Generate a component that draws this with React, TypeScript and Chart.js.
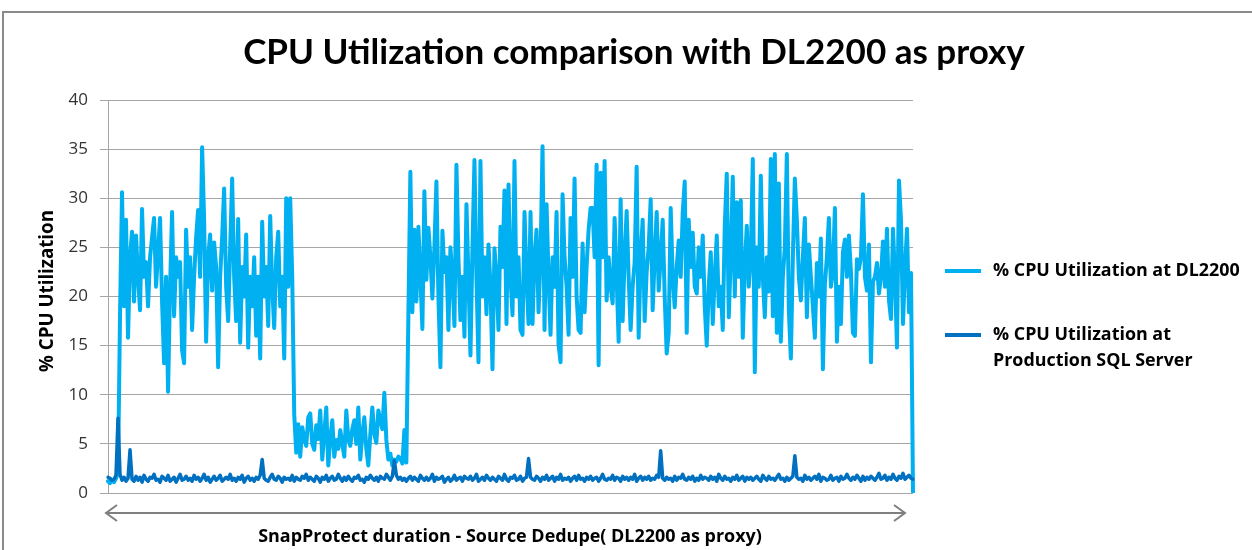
import React, { useEffect, useRef } from "react";
import { Chart, registerables } from "chart.js";

Chart.register(...registerables);

const TITLE = "CPU Utilization comparison with DL2200 as proxy";
const X_TITLE = "SnapProtect duration - Source Dedupe( DL2200 as proxy)";
const Y_TITLE = "% CPU Utilization";
const SERIES_NAMES = ["% CPU Utilization at DL2200", "% CPU Utilization at Production SQL Server"];
const LEGEND_LINES = [["% CPU Utilization at DL2200"], ["% CPU Utilization at", "Production SQL Server"]];
const Y_MIN = 0;
const Y_MAX = 40;
const Y_STEP = 5;

// % CPU utilisation at DL2200 (proxy), one sample per interval
const dl2200 = [
  1.2, 1.0, 1.3, 1.1, 1.5, 2.0, 18, 30.6, 19, 27.8,
  15.8, 24, 26.6, 19.5, 26.2, 22, 18.6, 28.9, 22, 23.5,
  19, 24, 26, 28, 21, 24.5, 28, 19.5, 13.2, 22,
  10.3, 21, 28.6, 18, 24, 22, 23.5, 14.5, 13.2, 26.8,
  21, 24, 16.6, 22, 26, 28.8, 22, 35.2, 27.8, 15.4,
  24, 26.3, 20.6, 25.5, 23, 12.8, 22, 26, 31, 21,
  17.5, 25, 32, 22, 17.5, 27.9, 15.3, 23, 20, 26.3,
  14.8, 22, 19, 24, 16, 22, 13.7, 27.6, 20, 23,
  17, 28.2, 21, 16.8, 24, 26.6, 19, 22, 13.7, 30,
  21, 30, 22, 8, 4.1, 7, 3.7, 6.7, 5.5, 4.8,
  7.7, 8.1, 5, 4.4, 6.9, 5.5, 8.4, 3.4, 6, 8.7,
  2.8, 5.5, 7.4, 3.7, 5.4, 4.5, 6.4, 5, 3.7, 8.4,
  5.5, 4.8, 6.5, 7.4, 5, 8.7, 3.4, 6, 7.7, 4.5,
  2.8, 6, 8.7, 6, 5.1, 8.4, 7.4, 6.5, 10.2, 5.4,
  3.4, 4, 2.8, 3.4, 3.2, 3.7, 3.5, 3, 6.4, 3.1,
  18, 32.7, 18.4, 26.8, 19.5, 27.1, 22, 16.7, 30.7, 21.7,
  27, 24, 19.8, 25, 31.7, 20, 12.8, 26.7, 22.5, 24,
  16.6, 25, 22, 17, 33.4, 24, 17.6, 22, 15.9, 29.4,
  22, 14, 24.9, 33.9, 22, 13.3, 33.8, 20, 24, 18.2,
  25.3, 21, 12.6, 24.9, 22, 16.6, 27.1, 23, 30.8, 17.2,
  31.4, 22, 18.1, 33.8, 20, 24, 16.6, 16.1, 28.6, 22,
  17.2, 28.6, 17.2, 24, 26.8, 18.4, 24, 35.3, 16.6, 29.4,
  22, 16.1, 24, 21, 28.6, 15.1, 13.3, 30.4, 24, 21.1,
  16.1, 28, 22, 32, 20, 16.6, 16.3, 25.4, 18.4, 23,
  26.8, 29, 29, 24, 33.4, 13, 32.6, 24, 33.8, 19.6,
  24, 21, 19.3, 28, 22, 15.4, 29.9, 17.5, 24, 28.7,
  22, 16.6, 21, 23.5, 33.2, 15.8, 24, 27.8, 17.5, 22.5,
  25, 29.9, 18.6, 24, 28.6, 20.6, 24, 27.8, 20, 14.2,
  16.3, 29, 22, 18.9, 23, 25.7, 22, 28.5, 31.7, 16.3,
  27.8, 23, 26.5, 21, 20.3, 25, 22, 26.2, 19, 15,
  21, 24.5, 17.2, 22, 26.2, 19, 21, 16.6, 27.2, 32.5,
  17.9, 24, 32.2, 20, 29.6, 22, 29.8, 15.8, 23, 27.2,
  21, 24, 34, 12.3, 25, 21, 32.3, 22, 17.9, 24,
  20.5, 34, 18, 34.5, 16.3, 31.5, 15.4, 22, 25, 34.5,
  18.6, 13.7, 24, 32, 27.8, 22, 19.6, 24, 28, 17.9,
  25.3, 22, 19, 15.8, 23.4, 20, 25.9, 12.6, 21.2, 24,
  28, 21, 22.5, 29, 15.4, 21, 17.2, 24.5, 25.8, 22,
  26.2, 22.5, 16.3, 16, 23.8, 22.8, 24, 30.4, 22, 20.6,
  25.3, 13.3, 21.5, 22, 23.4, 20.3, 22, 25.6, 21, 26.9,
  19.6, 17.7, 26.9, 22, 14.8, 31.8, 27.8, 17.2, 22.8, 26.9,
  18.4, 22.4, 0.1,
];

// % CPU utilisation at the production SQL server, same samples
const sqlServer = [
  1.6, 1.5, 1.3, 1.4, 1.8, 7.6, 1.9, 1.3, 1.6, 1.2,
  1.5, 4.4, 1.4, 1.2, 1.7, 1.3, 1.6, 1.1, 1.8, 1.4,
  1.2, 1.6, 1.5, 1.9, 1.3, 1.4, 1.1, 1.7, 1.5, 1.3,
  1.8, 1.2, 1.4, 1.6, 1.1, 1.5, 1.9, 1.3, 1.4, 1.7,
  1.3, 1.5, 1.2, 1.8, 1.4, 1.6, 1.2, 1.5, 1.9, 1.3,
  1.6, 1.1, 1.4, 1.7, 1.3, 1.5, 1.8, 1.2, 1.4, 1.6,
  1.4, 1.9, 1.3, 1.5, 1.2, 1.6, 1.4, 1.8, 1.1, 1.5,
  1.7, 1.3, 1.5, 1.2, 1.6, 1.4, 1.8, 3.4, 1.5, 1.3,
  1.2, 1.6, 1.9, 1.4, 1.3, 1.7, 1.5, 1.1, 1.6, 1.4,
  1.5, 1.3, 1.8, 1.2, 1.6, 1.4, 1.3, 1.7, 1.5, 1.9,
  1.3, 1.6, 1.4, 1.2, 1.7, 1.5, 1.1, 1.6, 1.4, 1.8,
  1.2, 1.5, 1.7, 1.3, 1.4, 1.9, 1.5, 1.2, 1.6, 1.3,
  1.7, 1.4, 1.2, 1.6, 1.5, 1.8, 1.3, 1.4, 1.1, 1.6,
  1.4, 1.8, 1.5, 1.3, 1.6, 1.2, 1.7, 1.5, 1.4, 1.9,
  1.6, 1.3, 1.7, 3.3, 1.8, 1.4, 1.6, 1.3, 1.5, 1.2,
  1.5, 1.7, 1.3, 1.6, 1.4, 1.2, 1.8, 1.5, 1.3, 1.6,
  1.3, 1.5, 1.9, 1.2, 1.6, 1.4, 1.5, 1.7, 1.1, 1.4,
  1.6, 1.2, 1.4, 1.8, 1.3, 1.5, 1.6, 1.2, 1.7, 1.5,
  1.4, 1.7, 1.3, 1.5, 1.9, 1.2, 1.4, 1.6, 1.3, 1.8,
  1.5, 1.3, 1.6, 1.4, 1.2, 1.7, 1.5, 1.3, 1.9, 1.4,
  1.2, 1.6, 1.5, 1.8, 1.3, 1.4, 1.7, 1.2, 1.5, 1.6,
  3.5, 1.6, 1.4, 1.3, 1.7, 1.5, 1.2, 1.6, 1.4, 1.8,
  1.3, 1.5, 1.7, 1.2, 1.6, 1.4, 1.9, 1.3, 1.5, 1.4,
  1.6, 1.2, 1.5, 1.7, 1.3, 1.8, 1.4, 1.5, 1.2, 1.6,
  1.4, 1.7, 1.3, 1.5, 1.6, 1.2, 1.5, 1.9, 1.4, 1.3,
  1.5, 1.4, 1.8, 1.3, 1.6, 1.5, 1.2, 1.7, 1.4, 1.6,
  1.3, 1.6, 1.4, 1.9, 1.2, 1.5, 1.7, 1.3, 1.6, 1.4,
  1.7, 1.3, 1.5, 1.4, 1.8, 1.6, 4.3, 1.5, 1.3, 1.6,
  1.4, 1.5, 1.2, 1.7, 1.3, 1.6, 1.5, 1.9, 1.4, 1.3,
  1.6, 1.4, 1.7, 1.2, 1.5, 1.3, 1.8, 1.4, 1.6, 1.5,
  1.3, 1.7, 1.4, 1.6, 1.2, 1.9, 1.5, 1.3, 1.7, 1.4,
  1.5, 1.2, 1.6, 1.4, 1.8, 1.3, 1.5, 1.7, 1.2, 1.6,
  1.4, 1.6, 1.3, 1.5, 1.7, 1.4, 1.2, 1.8, 1.5, 1.3,
  1.7, 1.4, 1.5, 1.3, 1.6, 1.9, 1.4, 1.5, 1.2, 1.6,
  1.3, 1.5, 1.7, 3.8, 1.6, 1.4, 1.5, 1.2, 1.8, 1.4,
  1.6, 1.3, 1.5, 1.7, 1.4, 1.9, 1.2, 1.6, 1.5, 1.3,
  1.4, 1.8, 1.3, 1.5, 1.6, 1.2, 1.7, 1.4, 1.5, 1.9,
  1.5, 1.3, 1.6, 1.4, 1.8, 1.5, 1.2, 1.7, 1.3, 1.6,
  1.4, 1.7, 1.5, 1.3, 1.6, 2.0, 1.4, 1.5, 1.8, 1.3,
  1.6, 1.4, 1.9, 1.5, 1.3, 1.7, 1.5, 2.0, 1.4, 1.6,
  1.8, 1.5, 1.4,
];

// sample number along the SnapProtect run
const samples = dl2200.map((_, i) => String(i + 1));

const COLORS = ["#00B0F0", "#0070C0"];
const TITLE_FONT = "Lato, 'Open Sans', sans-serif";
const LABEL_FONT = "'Open Sans', 'DejaVu Sans', sans-serif";

// draw text scaled so that it spans a given width
function fitText(
  ctx: CanvasRenderingContext2D,
  text: string,
  x: number,
  y: number,
  weight: string,
  family: string,
  targetWidth: number
) {
  ctx.font = `${weight} 20px ${family}`;
  const w = ctx.measureText(text).width;
  const size = (20 * targetWidth) / w;
  ctx.font = `${weight} ${size.toFixed(2)}px ${family}`;
  ctx.fillText(text, x, y);
}

const decorations = {
  id: "decorations",
  afterDraw(chart: any) {
    const ctx = chart.ctx as CanvasRenderingContext2D;
    ctx.save();

    // outer frame (top and left edges visible)
    ctx.strokeStyle = "#8a8a8a";
    ctx.lineWidth = 2;
    ctx.beginPath();
    ctx.moveTo(3, 550);
    ctx.lineTo(3, 12);
    ctx.lineTo(1252, 12);
    ctx.stroke();

    // title
    ctx.fillStyle = "#000";
    ctx.textAlign = "center";
    ctx.textBaseline = "middle";
    fitText(ctx, TITLE, 634, 53, "bold", TITLE_FONT, 782);

    // y axis title
    ctx.save();
    ctx.translate(48, 291);
    ctx.rotate(-Math.PI / 2);
    fitText(ctx, Y_TITLE, 0, 0, "bold", LABEL_FONT, 162);
    ctx.restore();

    // double-headed arrow under the plot
    const ay = 513;
    const ax1 = 106;
    const ax2 = 905;
    ctx.strokeStyle = "#7f7f7f";
    ctx.lineWidth = 2;
    ctx.beginPath();
    ctx.moveTo(ax1, ay);
    ctx.lineTo(ax2, ay);
    ctx.moveTo(ax1 + 11, ay - 8);
    ctx.lineTo(ax1, ay);
    ctx.lineTo(ax1 + 11, ay + 8);
    ctx.moveTo(ax2 - 11, ay - 8);
    ctx.lineTo(ax2, ay);
    ctx.lineTo(ax2 - 11, ay + 8);
    ctx.stroke();

    // x axis title
    ctx.fillStyle = "#000";
    ctx.textAlign = "center";
    fitText(ctx, X_TITLE, 510, 537, "bold", LABEL_FONT, 504);

    // legend
    const itemsY = [271, 335];
    ctx.textAlign = "left";
    ctx.font = "bold 20px " + LABEL_FONT;
    const refW = ctx.measureText(LEGEND_LINES[0][0]).width;
    const legendSize = (20 * 247) / refW;
    LEGEND_LINES.forEach((lines, i) => {
      const y = itemsY[i];
      ctx.strokeStyle = COLORS[i];
      ctx.lineWidth = 4;
      ctx.lineCap = "butt";
      ctx.beginPath();
      ctx.moveTo(945, y);
      ctx.lineTo(981, y);
      ctx.stroke();
      ctx.fillStyle = "#000";
      ctx.font = `bold ${legendSize.toFixed(2)}px ${LABEL_FONT}`;
      lines.forEach((t, j) => ctx.fillText(t, 993, y + j * 26));
    });

    ctx.restore();
  },
};

export default function App() {
  const ref = useRef<HTMLCanvasElement | null>(null);

  useEffect(() => {
    if (!ref.current) return;
    const chart = new Chart(ref.current, {
      type: "line",
      data: {
        labels: samples,
        datasets: [
          {
            label: SERIES_NAMES[0],
            data: dl2200,
            borderColor: COLORS[0],
            backgroundColor: COLORS[0],
            borderWidth: 4,
            pointRadius: 0,
            tension: 0,
            borderJoinStyle: "round",
            borderCapStyle: "round",
            order: 2,
          },
          {
            label: SERIES_NAMES[1],
            data: sqlServer,
            borderColor: COLORS[1],
            backgroundColor: COLORS[1],
            borderWidth: 3.5,
            pointRadius: 0,
            tension: 0,
            borderJoinStyle: "round",
            borderCapStyle: "round",
            order: 1,
          },
        ],
      },
      options: {
        responsive: false,
        animation: false,
        layout: { padding: { left: 58, top: 100, right: 339, bottom: 57 } },
        plugins: {
          legend: { display: false },
          title: { display: false },
          tooltip: { enabled: false },
        },
        scales: {
          x: {
            type: "category",
            offset: false,
            grid: { display: false, drawTicks: false },
            border: { display: false },
            ticks: { display: false },
            afterFit: (s: any) => {
              s.height = 0;
            },
          },
          y: {
            min: Y_MIN,
            max: Y_MAX,
            ticks: {
              stepSize: Y_STEP,
              padding: 12,
              color: "#333",
              font: { family: LABEL_FONT, size: 17 },
            },
            grid: { color: "#a6a6a6", lineWidth: 1, drawTicks: true, tickLength: 8 },
            border: { display: true, color: "#a6a6a6", width: 1 },
            afterFit: (s: any) => {
              s.width = 50;
            },
          },
        },
      },
      plugins: [decorations],
    });
    return () => chart.destroy();
  }, []);

  return (
    <div style={{ position: "absolute", left: 0, top: 0, width: 1252, height: 550, background: "#fff" }}>
      <canvas ref={ref} width={1252} height={550} />
    </div>
  );
}
